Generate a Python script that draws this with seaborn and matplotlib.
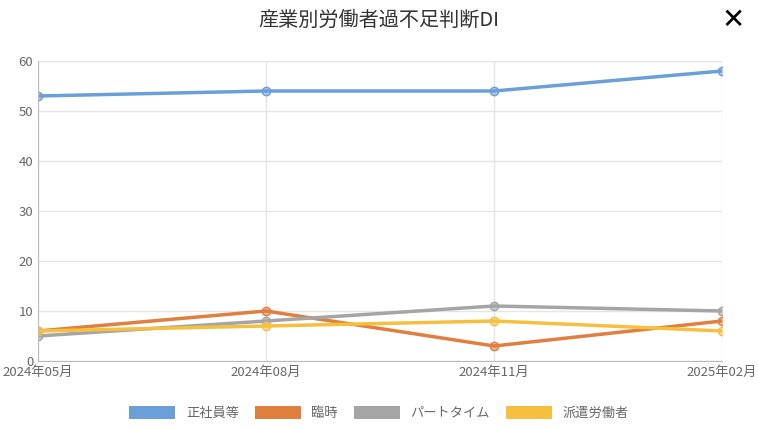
import pandas as pd
import seaborn as sns
import matplotlib.pyplot as plt

plt.rcParams['font.family'] = 'Noto Sans CJK JP'

months = ['2024年05月', '2024年08月', '2024年11月', '2025年02月']
seishain = [53, 54, 54, 58]
rinji = [6, 10, 3, 8]
part = [5, 8, 11, 10]
haken = [6, 7, 8, 6]

series = {'正社員等': seishain, '臨時': rinji, 'パートタイム': part, '派遣労働者': haken}
colors = ['#6a9fd8', '#e07f3e', '#a5a5a5', '#f5c040']

rows = []
for name, vals in series.items():
    for i, v in enumerate(vals):
        rows.append({'x': i, 'month': months[i], 'series': name, 'value': v})
df = pd.DataFrame(rows)

fig = plt.figure(figsize=(7.58, 4.3), dpi=100)
ax = fig.add_axes([38 / 758, 1 - 361 / 430, 684 / 758, 300 / 430])
sns.lineplot(data=df, x='x', y='value', hue='series', palette=colors, ax=ax,
             linewidth=2.5, marker='o', markersize=6, markeredgewidth=1,
             legend=False)
for line, c in zip(ax.lines, colors):
    line.set_markerfacecolor((*plt.matplotlib.colors.to_rgb(c), 0.5))
    line.set_markeredgecolor(c)

ax.set_xlim(0, 3)
ax.set_ylim(0, 60)
ax.set_xticks(range(4))
ax.set_xticklabels(months)
ax.set_yticks(range(0, 61, 10))
ax.tick_params(colors='#666666', labelsize=9.5, length=0)
ax.grid(True, color='#e5e5e5', linewidth=1)
ax.set_xlabel('')
ax.set_ylabel('')
for s in ['top', 'right']:
    ax.spines[s].set_visible(False)
for s in ['left', 'bottom']:
    ax.spines[s].set_color('#bbbbbb')

fig.text(0.5, 1 - 20 / 430, '産業別労働者過不足判断DI', ha='center', va='center',
         fontsize=14.5, color='#333333')
fig.text(733 / 758, 1 - 20 / 430, '✕', ha='center', va='center', fontsize=20,
         color='black', family='DejaVu Sans', fontweight='bold')

handles = [plt.Rectangle((0, 0), 1, 1, facecolor=c) for c in colors]
fig.legend(handles, list(series.keys()), loc='center', ncol=4,
           bbox_to_anchor=(0.5, 1 - 413 / 430), frameon=False, fontsize=9.5,
           handlelength=3.5, handleheight=1.1, columnspacing=1.2,
           labelcolor='#666666')

fig.savefig('out.png', dpi=100)
